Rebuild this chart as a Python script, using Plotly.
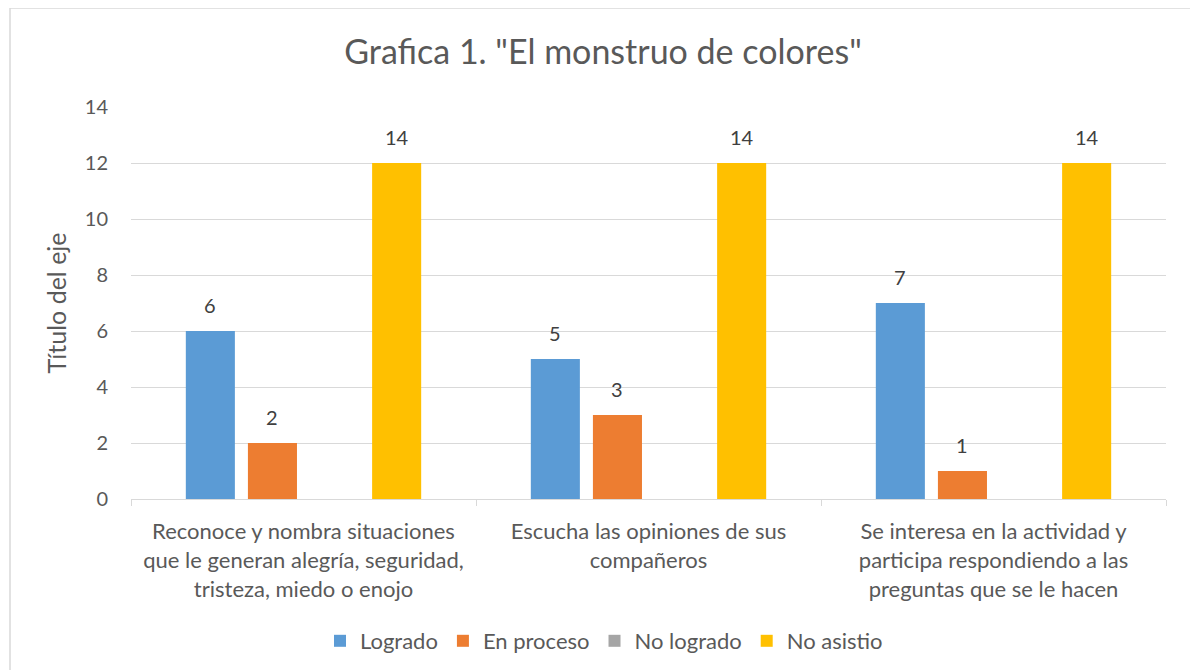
import plotly.graph_objects as go

categories = [
    "Reconoce y nombra situaciones<br>que le generan alegría, seguridad,<br>tristeza, miedo o enojo",
    "Escucha las opiniones de sus<br>compañeros",
    "Se interesa en la actividad y<br>participa respondiendo a las<br>preguntas que se le hacen",
]
series_names = ["Logrado", "En proceso", "No logrado", "No asistio"]
logrado = [6, 5, 7]
en_proceso = [2, 3, 1]
no_logrado = [0, 0, 0]
no_asistio = [12, 12, 12]               # drawn bar height as seen in the picture
no_asistio_labels = ["14", "14", "14"]  # label printed above those bars
colors = ["#5B9BD5", "#ED7D31", "#A5A5A5", "#FFC000"]

FONT = "Lato, Calibri, Carlito, sans-serif"
TXT = "#595959"

fig = go.Figure()
values = [logrado, en_proceso, no_logrado, no_asistio]
labels = [[str(v) for v in logrado], [str(v) for v in en_proceso], None, no_asistio_labels]
for i, (name, vals, col) in enumerate(zip(series_names, values, colors)):
    fig.add_trace(go.Bar(
        x=categories, y=vals, name=name, offsetgroup=str(i),
        marker=dict(color=col, line=dict(width=0)),
    ))

# page body adds an 8px offset; compensate
W, H = 1190, 662
L, T = 123, 99
R = W - (1166 - 8)
B = H - (499 - 8)
pw, ph = W - L - R, H - T - B
y0px = 499  # page y of the value-0 line

bargap, bargroupgap = 0.28, 0.21
n = len(series_names)
slot = (1 - bargap) / n
annotations = []
for s_idx, lab in enumerate(labels):
    if lab is None:
        continue
    for c_idx, (cat, t) in enumerate(zip(categories, lab)):
        annotations.append(dict(
            x=c_idx - (1 - bargap) / 2 + slot * (s_idx + 0.5), xref="x",
            y=values[s_idx][c_idx], yref="y", yshift=26,
            text=t, showarrow=False, xanchor="center", yanchor="middle",
            font=dict(family=FONT, size=20, color="#404040"),
        ))

fig.update_layout(
    width=W, height=H,
    margin=dict(l=L, r=R, t=T, b=B, autoexpand=False),
    paper_bgcolor="white", plot_bgcolor="white",
    barmode="group", bargap=bargap, bargroupgap=bargroupgap,
    font=dict(family=FONT, color=TXT, size=18),
    title=dict(text='Grafica 1. "El monstruo de colores"', x=0.5, xanchor="center",
               y=1 - (52 - 8) / H, yanchor="middle",
               font=dict(family=FONT, size=34, color=TXT)),
    legend=dict(orientation="h", xref="container", x=(604 - 8) / W, xanchor="center",
                yref="container", y=1 - (641 - 8) / H, yanchor="middle",
                font=dict(family=FONT, size=22, color=TXT), itemwidth=30,
                traceorder="normal"),
    showlegend=True,
    annotations=annotations,
    shapes=[dict(type="rect", xref="paper", yref="paper",
                 x0=(10 - 131) / pw, x1=(1194 - 131) / pw,
                 y0=-(700 - y0px) / ph, y1=(y0px - 8) / ph,
                 line=dict(color="#D9D9D9", width=1.5), layer="below")],
)
fig.update_xaxes(
    type="category", showgrid=False, showline=True, linecolor="#D9D9D9", linewidth=1,
    ticks="outside", tickson="boundaries", ticklen=6, tickcolor="#D9D9D9",
    ticklabelstandoff=13, automargin=False,
    tickfont=dict(family=FONT, size=22, color=TXT),
)
fig.update_yaxes(
    range=[0, 14], dtick=2, showgrid=True, gridcolor="#D9D9D9", gridwidth=1,
    zeroline=False, showline=False, ticks="", ticklabelstandoff=22, automargin=False,
    tickfont=dict(family=FONT, size=20, color=TXT),
    title=dict(text="Título del eje", font=dict(family=FONT, size=25, color=TXT), standoff=11),
)
fig.write_html("out.html")
